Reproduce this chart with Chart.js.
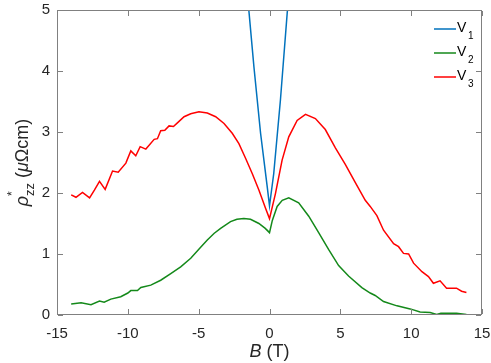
<!DOCTYPE html>
<html>
<head>
<meta charset="utf-8">
<script src="https://cdn.jsdelivr.net/npm/chart.js@4.4.0/dist/chart.umd.min.js"></script>
<style>
    html, body { margin: 0; padding: 0; background: #ffffff; }
    #chart { display: block; }
</style>
</head>
<body>
<canvas id="chart" width="491" height="363"></canvas>
<script>
// Series labels
const seriesNames = ['V1', 'V2', 'V3'];

// V1 (blue) - goes off the top of the axes
const v1Field = [-1.75, -1.46, -1.1, -0.63, -0.16, 0, 0.3, 0.77, 1.25, 1.5];
const v1Rho = [5.6, 5.0, 4.07, 2.98, 2.10, 1.79, 2.32, 3.52, 4.95, 5.6];

// V2 (green)
const v2Field = [-14.0, -13.3, -12.6, -12.0, -11.67, -11.2, -10.5, -10.0, -9.79, -9.32, -9.08, -8.38, -7.68, -6.97,
    -6.27, -5.56, -4.86, -4.39, -3.9, -3.45, -2.75, -2.3, -1.81, -1.34, -0.75, -0.3, 0, 0.2, 0.54, 0.9, 1.36,
    2.06, 2.77, 3.47, 4.18, 4.88, 5.58, 6.52, 7.11, 7.46, 8.05, 9.0, 9.93, 10.63, 11.34, 11.8, 12.1, 12.5,
    13.2, 13.9];
const v2Rho = [0.18, 0.20, 0.17, 0.23, 0.21, 0.26, 0.30, 0.36, 0.40, 0.40, 0.45, 0.49, 0.57, 0.68,
    0.79, 0.93, 1.11, 1.23, 1.34, 1.42, 1.53, 1.57, 1.58, 1.57, 1.50, 1.42, 1.35, 1.55, 1.78, 1.88, 1.92,
    1.84, 1.62, 1.35, 1.07, 0.81, 0.64, 0.45, 0.36, 0.32, 0.22, 0.15, 0.10, 0.05, 0.04, 0.01, 0.03, 0.03,
    0.03, 0.01];

// V3 (red)
const v3Field = [-14.0, -13.66, -13.2, -12.7, -12.35, -12.0, -11.6, -11.08, -10.68, -10.14, -9.79, -9.44, -9.13,
    -8.73, -8.14, -7.91, -7.68, -7.39, -7.09, -6.78, -6.5, -6.03, -5.56, -4.98, -4.39, -3.8, -3.21, -2.63,
    -2.16, -1.69, -1.22, -0.75, -0.28, 0, 0.42, 0.89, 1.36, 1.95, 2.54, 3.24, 3.94, 4.65, 5.35, 6.06, 6.76,
    7.11, 7.58, 8.05, 8.76, 9.11, 9.46, 9.82, 10.17, 10.76, 11.22, 11.57, 12.04, 12.5, 13.2, 13.56, 13.9];
const v3Rho = [1.97, 1.93, 2.01, 1.92, 2.05, 2.19, 2.06, 2.36, 2.34, 2.49, 2.69, 2.61, 2.76,
    2.72, 2.88, 2.89, 3.02, 3.03, 3.10, 3.09, 3.15, 3.25, 3.30, 3.33, 3.31, 3.25, 3.14, 2.98,
    2.81, 2.57, 2.32, 2.05, 1.75, 1.58, 1.99, 2.54, 2.92, 3.19, 3.29, 3.22, 3.04, 2.74, 2.47, 2.17, 1.88,
    1.78, 1.63, 1.39, 1.17, 1.12, 1.01, 1.00, 0.85, 0.71, 0.63, 0.52, 0.56, 0.44, 0.44, 0.39, 0.37];

// Axis ticks
const xTicks = [-15, -10, -5, 0, 5, 10, 15];
const yTicks = [0, 1, 2, 3, 4, 5];

// Colours (MATLAB-ish)
const colors = ['#0072bd', '#14891a', '#ff0000'];

const frameColor = '#808080';
const labelColor = '#262626';
const fontFamily = '"Liberation Sans", Arial, sans-serif';

function toPoints(xs, ys) {
    return xs.map((x, i) => ({ x: x, y: ys[i] }));
}

// ================================
// Box with inward ticks
// ================================
function drawFrame(chart) {
    const ctx = chart.ctx;
    const a = chart.chartArea;
    const sx = chart.scales.x;
    const sy = chart.scales.y;
    const tl = 5;
    ctx.save();
    ctx.strokeStyle = frameColor;
    ctx.lineWidth = 1;
    ctx.strokeRect(a.left + 0.5, a.top + 0.5, a.right - a.left - 1, a.bottom - a.top - 1);
    ctx.fillStyle = frameColor;
    xTicks.forEach(v => {
        const px = Math.round(sx.getPixelForValue(v));
        ctx.fillRect(px, a.bottom - 1 - tl, 1, tl);
        ctx.fillRect(px, a.top + 1, 1, tl);
    });
    yTicks.forEach(v => {
        const py = Math.round(sy.getPixelForValue(v));
        ctx.fillRect(a.left + 1, py, tl, 1);
        ctx.fillRect(a.right - 1 - tl, py, tl, 1);
    });
    ctx.restore();
}

// ================================
// Legend with subscripts
// ================================
function drawLegend(chart) {
    const ctx = chart.ctx;
    ctx.save();
    ctx.lineWidth = 1.5;
    ctx.fillStyle = '#000000';
    ctx.textBaseline = 'alphabetic';
    ctx.textAlign = 'left';
    seriesNames.forEach((name, i) => {
        const y = 29 + i * 24;
        ctx.strokeStyle = colors[i];
        ctx.beginPath();
        ctx.moveTo(434, y);
        ctx.lineTo(456, y);
        ctx.stroke();
        ctx.font = '14px ' + fontFamily;
        ctx.fillText(name[0], 457, y + 3);
        ctx.font = '10px ' + fontFamily;
        ctx.fillText(name.slice(1), 468, y + 10);
    });
    ctx.restore();
}

// ================================
// Axis titles
// ================================
function drawTitles(chart) {
    const ctx = chart.ctx;
    const a = chart.chartArea;
    ctx.save();
    ctx.fillStyle = labelColor;
    ctx.textBaseline = 'alphabetic';
    ctx.textAlign = 'left';

    // x title: B (T)
    ctx.font = 'italic 18px ' + fontFamily;
    const bW = ctx.measureText('B').width;
    ctx.font = '18px ' + fontFamily;
    const rW = ctx.measureText(' (T)').width;
    const x0 = (a.left + a.right) / 2 - (bW + rW) / 2;
    ctx.font = 'italic 18px ' + fontFamily;
    ctx.fillText('B', x0, 357);
    ctx.font = '18px ' + fontFamily;
    ctx.fillText(' (T)', x0 + bW, 357);

    // y title: rho*_zz (muOhm cm), rotated
    ctx.translate(28, (a.top + a.bottom) / 2);
    ctx.rotate(-Math.PI / 2);
    const parts = [
        { t: '\u03C1', f: 'italic 18px ', dy: 0, adv: true },
        { t: '*', f: '12px ', dy: -12, adv: false },
        { t: 'zz', f: '13px ', dy: 6, adv: true },
        { t: ' (', f: '18px ', dy: 0, adv: true },
        { t: '\u03BC', f: 'italic 18px ', dy: 0, adv: true },
        { t: '\u03A9cm)', f: '18px ', dy: 0, adv: true }
    ];
    let total = 0;
    parts.forEach(p => {
        ctx.font = p.f + fontFamily;
        p.w = ctx.measureText(p.t).width;
        if (p.adv) total += p.w;
    });
    let pos = -total / 2;
    parts.forEach(p => {
        ctx.font = p.f + fontFamily;
        ctx.fillText(p.t, pos, p.dy);
        if (p.adv) pos += p.w;
    });
    ctx.restore();
}

const matlabAxes = {
    id: 'matlabAxes',
    afterDraw(chart) {
        drawFrame(chart);
        drawLegend(chart);
        drawTitles(chart);
    }
};

document.addEventListener('DOMContentLoaded', function () {
    const ctx = document.getElementById('chart').getContext('2d');
    const fields = [v1Field, v2Field, v3Field];
    const rhos = [v1Rho, v2Rho, v3Rho];

    new Chart(ctx, {
        type: 'line',
        data: {
            datasets: seriesNames.map((name, i) => ({
                label: name,
                data: toPoints(fields[i], rhos[i]),
                borderColor: colors[i],
                borderWidth: 1.5,
                pointRadius: 0,
                tension: 0,
                fill: false
            }))
        },
        options: {
            responsive: false,
            animation: false,
            devicePixelRatio: 1,
            layout: { padding: { top: 10, right: 9, left: 0, bottom: 0 } },
            plugins: {
                legend: { display: false },
                tooltip: { enabled: false }
            },
            scales: {
                x: {
                    type: 'linear',
                    min: -15, max: 15,
                    afterFit: s => { s.height = 48; s.paddingLeft = 0; s.paddingRight = 0; },
                    afterBuildTicks: s => { s.ticks = xTicks.map(v => ({ value: v })); },
                    grid: { display: false, drawTicks: false },
                    border: { display: false },
                    ticks: { color: labelColor, font: { family: fontFamily, size: 15 }, padding: 10, maxRotation: 0 }
                },
                y: {
                    type: 'linear',
                    min: 0, max: 5,
                    afterFit: s => { s.width = 57; s.paddingTop = 0; s.paddingBottom = 0; },
                    afterBuildTicks: s => { s.ticks = yTicks.map(v => ({ value: v })); },
                    grid: { display: false, drawTicks: false },
                    border: { display: false },
                    ticks: { color: labelColor, font: { family: fontFamily, size: 15 }, padding: 7 }
                }
            }
        },
        plugins: [matlabAxes]
    });
});
</script>
</body>
</html>
